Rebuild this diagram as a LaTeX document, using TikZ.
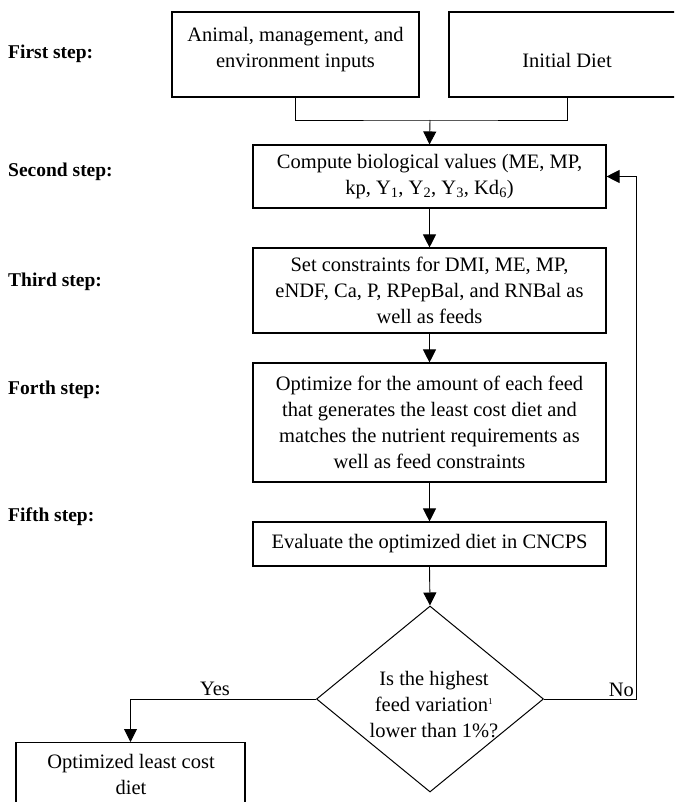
\documentclass[tikz,border=0pt]{standalone}
\usepackage{fontspec}
\setmainfont{Liberation Serif}
\usetikzlibrary{arrows.meta,shapes.geometric}
\begin{document}
\begin{tikzpicture}[x=1pt,y=-1pt,
  box/.style={draw, line width=1.1pt, inner sep=0pt},
  txt/.style={font=\fontsize{20.5}{26}\selectfont, align=center, inner sep=0pt},
  lab/.style={font=\fontsize{19.5}{24}\selectfont\bfseries, anchor=west, inner sep=0pt},
  conn/.style={line width=0.9pt},
  arr/.style={conn, -{Triangle[length=13pt,width=13pt]}},
]
\useasboundingbox (0,0) rectangle (674,802);
\clip (0,0) rectangle (674,802);

% step labels
\node[lab] (s1) at (8,54) {First step:};
\node[lab] (s2) at (8,172) {Second step:};
\node[lab] (s3) at (8,282) {Third step:};
\node[lab] (s4) at (8,390) {Forth step:};
\node[lab] (s5) at (8,517) {Fifth step:};

% first step boxes
\node[box, minimum width=247pt, minimum height=85pt] (in1) at (295.5,54.5) {};
\node[txt] (in1t) at (295.5,50) {Animal, management, and\\environment inputs};
\node[box, minimum width=236pt, minimum height=85pt] (in2) at (567,54.5) {};
\node[txt] (in2t) at (567,60) {Initial Diet};

% main chain
\node[box, txt, minimum width=353pt, minimum height=63pt] (cb) at (429.5,176.5)
  {Compute biological values (ME, MP,\\kp, Y\textsubscript{1}, Y\textsubscript{2}, Y\textsubscript{3}, Kd\textsubscript{6})};
\node[box, txt, minimum width=353pt, minimum height=85pt] (sc) at (429.5,290.5)
  {Set constraints for DMI, ME, MP,\\eNDF, Ca, P, RPepBal, and RNBal as\\well as feeds};
\node[box, txt, minimum width=353pt, minimum height=119pt] (op) at (429.5,422.5)
  {Optimize for the amount of each feed\\that generates the least cost diet and\\matches the nutrient requirements as\\well as feed constraints};
\node[box, txt, minimum width=353pt, minimum height=44pt] (ev) at (429.5,544)
  {Evaluate the optimized diet in CNCPS};

% decision
\node[draw, diamond, line width=1pt, minimum width=227pt, minimum height=186pt, inner sep=0pt] (dec) at (430,699) {};
\node[txt] (dect) at (434,705) {Is the highest\\feed variation\textsuperscript{\fontsize{9}{9}\selectfont 1}\\lower than 1\%?};

% final box
\node[box, minimum width=229pt, minimum height=80pt, anchor=north] (fin) at (130.5,742) {};
\node[txt] (fint) at (131,774) {Optimized least cost\\diet};

% connectors
\coordinate (j) at (430,120);
\draw[conn] (in1.south) |- (j) -| (in2.south);
\draw[arr] (j) -- (cb.north);
\draw[arr] (cb.south) -- (sc.north);
\draw[arr] (sc.south) -- (op.north);
\draw[arr] (op.south) -- (ev.north);
\draw[arr] (ev.south) -- (dec.north);
\draw[arr] (dec.west) -| (fin.north);
\coordinate (nc) at (636,699);
\draw[arr] (dec.east) -- (nc) |- (cb.east);

\node[txt, anchor=base] (yes) at (215,695) {Yes};
\node[txt, anchor=base east] (no) at (634,696) {No};
\end{tikzpicture}
\end{document}
